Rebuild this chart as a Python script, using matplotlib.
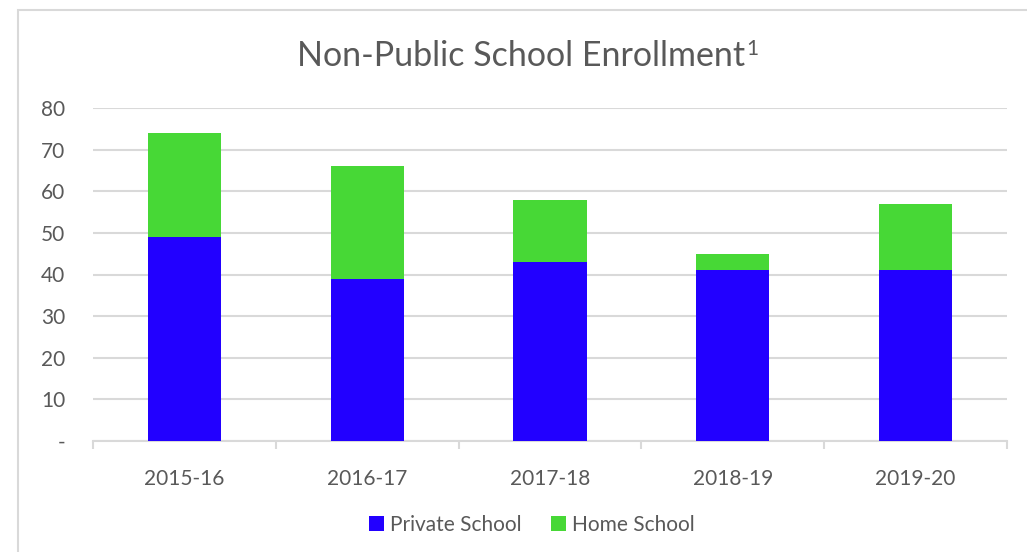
import matplotlib
matplotlib.use("Agg")
import matplotlib.pyplot as plt
from matplotlib.patches import Rectangle
import numpy as np

categories = ["2015-16", "2016-17", "2017-18", "2018-19", "2019-20"]
private_school = [49, 39, 43, 41, 41]
home_school = [25, 27, 15, 4, 16]
yticks = [0, 10, 20, 30, 40, 50, 60, 70, 80]
ytick_labels = ["-", "10", "20", "30", "40", "50", "60", "70", "80"]

BLUE = "#2200FF"
GREEN = "#47D836"
TXT = "#595959"
GRID = "#D9D9D9"

plt.rcParams['font.family'] = ['Lato', 'DejaVu Sans']

W, H = 1027, 552
fig = plt.figure(figsize=(W/100, H/100), dpi=100)
fig.patch.set_facecolor("white")

# chart border
fig.patches.append(Rectangle((18/W, -0.1), 1.2, 1 - 10/H + 0.1, transform=fig.transFigure,
                             fill=False, edgecolor="#D9D9D9", linewidth=1.5, zorder=0))

ax = fig.add_axes([93/W, 1 - 441/H, (1007-93)/W, (441-108)/H])
x = np.arange(len(categories))
ax.bar(x, private_school, width=0.4, color=BLUE, label="Private School", zorder=3)
ax.bar(x, home_school, width=0.4, bottom=private_school, color=GREEN, label="Home School", zorder=3)

ax.set_xlim(-0.5, len(categories) - 0.5)
ax.set_ylim(0, 80)
ax.set_yticks(yticks)
ax.set_yticklabels(ytick_labels)
ax.yaxis.grid(True, color=GRID, linewidth=1.5, zorder=0)
ax.set_axisbelow(True)
for s in ["top", "right", "left"]:
    ax.spines[s].set_visible(False)
ax.spines["bottom"].set_color(GRID)
ax.spines["bottom"].set_linewidth(1.5)
ax.tick_params(axis="y", length=0, pad=20, labelsize=15, labelcolor=TXT)
ax.set_xticks(x)
ax.set_xticklabels(categories)
ax.tick_params(axis="x", which="major", length=0, pad=20, labelsize=15, labelcolor=TXT)
ax.set_xticks(np.arange(len(categories) + 1) - 0.5, minor=True)
ax.tick_params(axis="x", which="minor", length=6, width=1.5, color=GRID)
for lbl in ax.get_yticklabels():
    lbl.set_horizontalalignment("right")

# title with superscript
t = fig.text(521/W, 1 - 56/H, "Non-Public School Enrollment", ha="center", va="center",
             fontsize=24.5, color=TXT)
fig.canvas.draw()
bb = t.get_window_extent(renderer=fig.canvas.get_renderer())
fig.text((bb.x1 + 1)/W, (bb.y1 + 1)/H, "1", ha="left", va="top", fontsize=15, color=TXT)

leg = fig.legend(loc="center", bbox_to_anchor=(532/W, 1 - 525/H), ncol=2, frameon=False,
                 fontsize=15, handlelength=0.7, handleheight=0.7, handletextpad=0.3,
                 columnspacing=1.4, labelcolor=TXT)

fig.savefig("out.png", dpi=100, facecolor="white")
